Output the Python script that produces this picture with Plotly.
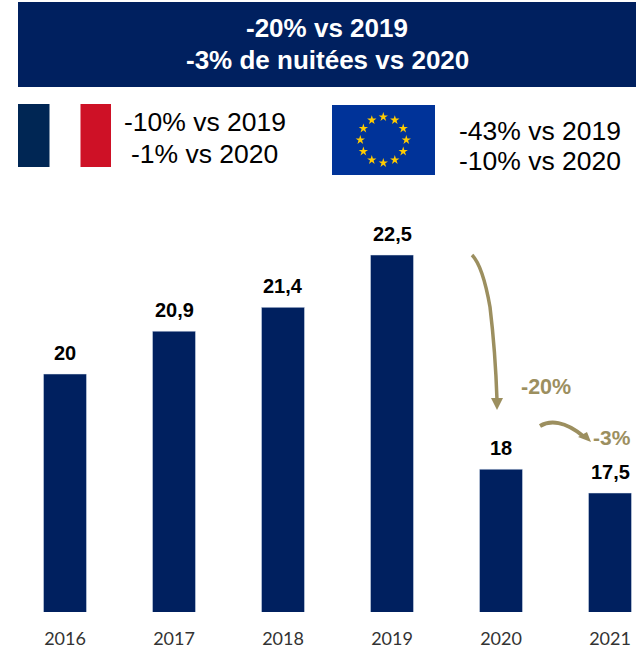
import plotly.graph_objects as go
import math

years = ["2016", "2017", "2018", "2019", "2020", "2021"]
nights = [20, 20.9, 21.4, 22.5, 18, 17.5]
labels = ["20", "20,9", "21,4", "22,5", "18", "17,5"]

NAVY = "#00205F"
GOLD = "#9C8F5F"
W, H = 642, 648
BASE_Y, PX_PER_UNIT = 612, 47.6
Y0 = 15
PLOT_TOP = 200
FIRST_X, STEP_X = 65, 109
TEXT = "Liberation Sans, Arial, sans-serif"

fig = go.Figure()
fig.add_trace(go.Bar(
    x=years, y=nights, width=0.395, marker_color=NAVY,
    showlegend=False, hoverinfo="skip", xaxis="x", yaxis="y",
))

# EU flag stars (decoration placed in the pixel overlay axes)
cx, cy, r = 383.3, 140, 23
sx = [cx + r * math.sin(math.radians(i * 30)) for i in range(12)]
sy = [cy - r * math.cos(math.radians(i * 30)) for i in range(12)]
fig.add_trace(go.Scatter(
    x=sx, y=sy, mode="markers", xaxis="x2", yaxis="y2", showlegend=False,
    hoverinfo="skip", marker=dict(symbol="star", size=7, color="#FFCC00", line_width=0),
))

def rect(x0, y0, x1, y1, c):
    return dict(type="rect", xref="x2", yref="y2", x0=x0, y0=y0, x1=x1, y1=y1,
                fillcolor=c, line_width=0, layer="below")

def path(d, fill=None, width=0):
    s = dict(type="path", xref="x2", yref="y2", path=d, layer="above")
    if fill:
        s.update(fillcolor=fill, line_width=0)
    else:
        s.update(line=dict(color=GOLD, width=width))
    return s

shapes = [
    rect(18, 2, 636, 87, NAVY),
    rect(18, 104, 49.5, 167, "#002654"),
    rect(80.5, 104, 111, 167, "#CE1126"),
    rect(332, 105, 435, 175, "#003399"),
    path("M 472 255 C 482 265 487 290 490 307 C 494 340 496 370 497 400", width=3.5),
    path("M 491 398 L 503 398 L 497 410 Z", fill=GOLD),
    path("M 540 426 C 550 420 565 421 583 436", width=4),
    path("M 578 437 L 587 432 L 591 442 Z", fill=GOLD),
]

def note(x, y, t, size, color="#000000", bold=False):
    fig.add_annotation(xref="x2", yref="y2", x=x, y=y, text=f"<b>{t}</b>" if bold else t,
                       showarrow=False, font=dict(family=TEXT, size=size, color=color),
                       xanchor="center", yanchor="middle")

note(327, 28, "-20% vs 2019", 26, "#FFFFFF", True)
note(327, 60, "-3% de nuitées vs 2020", 26, "#FFFFFF", True)
note(205, 122, "-10% vs 2019", 26.5)
note(204, 154, "-1% vs 2020", 26.5)
note(540, 131, "-43% vs 2019", 26.5)
note(540, 161, "-10% vs 2020", 26.5)
note(546, 387, "-20%", 21.5, GOLD, True)
note(612, 437, "-3%", 21, GOLD, True)

# value labels follow the data through the bar axes
for i, (value, label) in enumerate(zip(nights, labels)):
    fig.add_annotation(xref="x", yref="y", x=i, y=value, text=f"<b>{label}</b>", showarrow=False,
                       yanchor="bottom", yshift=8, font=dict(family=TEXT, size=20, color="#000000"))

y_top = Y0 + (BASE_Y - PLOT_TOP) / PX_PER_UNIT
fig.update_layout(
    width=W, height=H, margin=dict(l=0, r=0, t=0, b=0),
    paper_bgcolor="white", plot_bgcolor="rgba(0,0,0,0)", shapes=shapes,
    xaxis=dict(domain=[0, 1], type="category", anchor="y", showgrid=False, showline=False,
               range=[-FIRST_X / STEP_X, (W - FIRST_X) / STEP_X],
               ticks="", tickfont=dict(family="Lato, Carlito, sans-serif", size=18, color="#333333"),
               ticklabelstandoff=14),
    yaxis=dict(domain=[1 - BASE_Y / H, 1 - PLOT_TOP / H], range=[Y0, y_top], visible=False, anchor="x"),
    xaxis2=dict(domain=[0, 1], range=[0, W], visible=False, anchor="y2"),
    yaxis2=dict(domain=[0, 1], range=[H, 0], visible=False, anchor="x2"),
)
fig.write_html("out.html", post_script="document.body.style.margin='0';", config=dict(displayModeBar=False))
